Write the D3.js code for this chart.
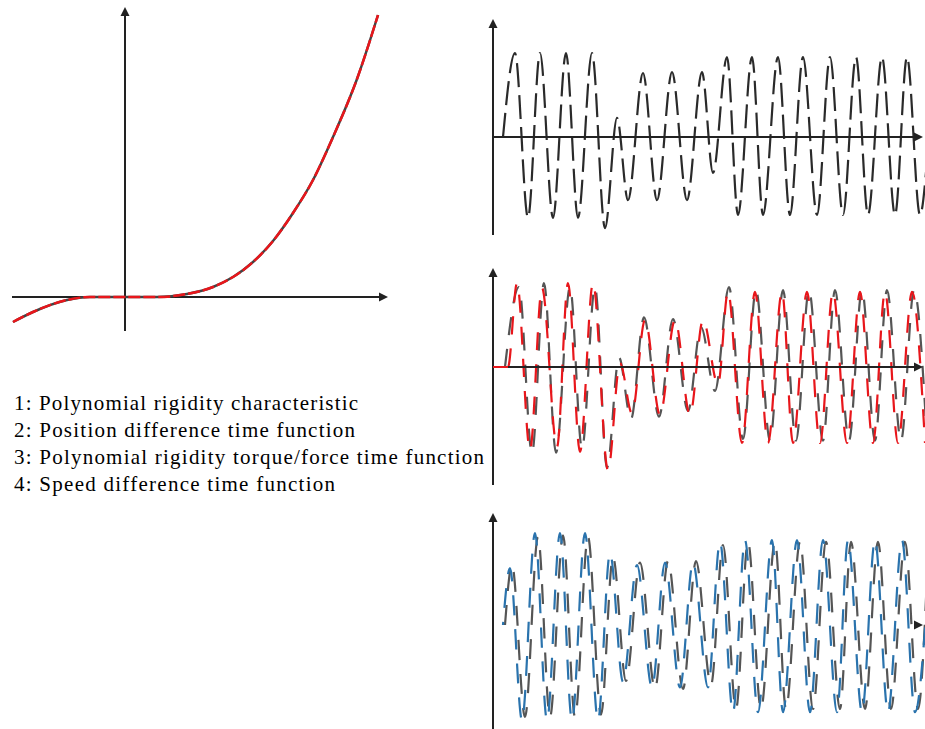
<!DOCTYPE html>
<html><head><meta charset="utf-8">
<script src="https://cdn.jsdelivr.net/npm/d3@7"></script>
<style>body{margin:0;background:#fff}svg{display:block}</style>
</head><body>
<script>
// ---- Data ----
// Panel 1: polynomial rigidity characteristic (displacement -> torque)
const charX = [-2.24,-1.84,-1.16,-0.7,0.64,1.24,1.76,2.16,2.56,2.96,3.36,3.76,4.16,4.64,5.06];
const charY = [-0.5,-0.3,-0.06,0,0,0.06,0.2,0.4,0.7,1.12,1.68,2.34,3.2,4.36,5.64];

// Panel 2: position difference time function
const posT = [0.10,0.22,0.35,0.47,0.60,0.73,0.85,0.99,1.12,1.24,1.35,1.50,1.64,1.79,1.94,2.09,2.20,2.34,2.45,2.59,2.70,2.85,2.97,3.10,3.24,3.37,3.50,3.63,3.75,3.89,4.02,4.14,4.27,4.34];
const posV = [0,1.05,-1.01,1.05,-1.01,1.05,-1.01,1.05,-1.14,0.24,-0.79,0.80,-0.79,0.81,-0.79,0.81,-0.45,1.00,-0.975,1.00,-0.975,1.00,-0.975,1.00,-0.975,1.00,-0.975,1.00,-0.975,1.00,-0.975,1.00,-0.975,-0.3];

// Panel 3: torque (red) and position overlay (gray)
const torqT = [0,0.15,0.24,0.37,0.49,0.64,0.75,0.87,1.00,1.15,1.27,1.39,1.52,1.67,1.82,1.97,2.10,2.25,2.35,2.49,2.62,2.75,2.89,3.00,3.14,3.27,3.40,3.54,3.67,3.80,3.92,4.05,4.19,4.32];
const torqV = [0,0,1.05,-1.04,0.99,-1.0,1.05,-1.06,1.05,-1.29,0.05,-0.58,0.59,-0.6,0.59,-0.6,0.59,-0.22,0.94,-0.95,0.94,-0.95,0.94,-0.95,0.94,-0.95,0.94,-0.95,0.94,-0.95,0.94,-0.95,0.94,-0.95];
const gposT = [0.12,0.26,0.39,0.51,0.63,0.77,0.89,1.02,1.14,1.26,1.38,1.51,1.66,1.80,1.95,2.08,2.22,2.36,2.50,2.63,2.77,2.90,3.03,3.16,3.30,3.42,3.56,3.69,3.82,3.94,4.08,4.21,4.34];
const gposV = [0,1.0,-1.08,1.05,-1.07,1.0,-1.02,1.0,-1.26,0.12,-0.65,0.62,-0.62,0.6,-0.55,0.5,-0.3,1.0,-0.9,0.96,-0.92,0.96,-0.92,0.96,-0.92,0.96,-0.92,0.96,-0.92,0.96,-0.92,0.96,-0.92];

// Panel 4: speed difference (blue) and gray overlay
const spdT = [0.10,0.17,0.29,0.42,0.54,0.67,0.79,0.92,1.05,1.17,1.30,1.44,1.59,1.72,1.87,2.00,2.15,2.27,2.40,2.52,2.65,2.79,2.90,3.04,3.17,3.30,3.44,3.55,3.69,3.82,3.95,4.09,4.22,4.34];
const spdV = [0,0.71,-1.19,1.15,-1.19,1.15,-1.19,1.15,-1.19,0.9,-0.71,0.75,-0.78,0.78,-0.78,0.78,-0.78,1.04,-1.09,1.06,-1.09,1.06,-1.09,1.06,-1.09,1.06,-1.09,1.06,-1.09,1.06,-1.09,1.06,-1.09,0.3];
const gspT = [0.12,0.19,0.32,0.45,0.57,0.70,0.82,0.95,1.08,1.20,1.33,1.47,1.62,1.75,1.90,2.03,2.18,2.30,2.43,2.55,2.68,2.82,2.93,3.07,3.20,3.33,3.47,3.58,3.72,3.85,3.98,4.12,4.25,4.34];
const gspV = [0,0.75,-1.15,1.1,-1.15,1.12,-1.15,1.1,-1.12,0.85,-0.7,0.78,-0.8,0.8,-0.8,0.8,-0.75,1.0,-1.05,1.04,-1.05,1.04,-1.05,1.04,-1.05,1.04,-1.05,1.04,-1.05,1.04,-1.05,1.04,-1.05,0.6];

const legendLines = [
  "1: Polynomial rigidity characteristic",
  "2: Position difference time function",
  "3: Polynomial rigidity torque/force time function",
  "4: Speed difference time function"
];
const legendWidths = [344, 341, 470, 321];

// ---- Drawing ----
const W = 925, H = 729;
const svg = d3.select("body").append("svg").attr("width", W).attr("height", H);
const AX = "#222";

function arrowRight(g, x, y) {
  g.append("path").attr("d", `M${x},${y}L${x-9},${y-4.5}L${x-9},${y+4.5}Z`).attr("fill", AX);
}
function arrowUp(g, x, y) {
  g.append("path").attr("d", `M${x},${y}L${x-4.5},${y+9}L${x+4.5},${y+9}Z`).attr("fill", AX);
}

// Panel 1
const xL = d3.scaleLinear().domain([-2.26, 5.26]).range([12, 388]);
const yL = d3.scaleLinear().domain([-0.68, 5.8]).range([331, 7]);
const g1 = svg.append("g");
g1.append("line").attr("x1", xL(-2.26)).attr("x2", xL(5.26) - 4).attr("y1", yL(0)).attr("y2", yL(0)).attr("stroke", AX).attr("stroke-width", 2);
g1.append("line").attr("x1", xL(0)).attr("x2", xL(0)).attr("y1", yL(-0.68)).attr("y2", yL(5.8) + 4).attr("stroke", AX).attr("stroke-width", 2);
arrowRight(g1, xL(5.26), yL(0));
arrowUp(g1, xL(0), yL(5.8));
const charData = charX.map((x, i) => [x, charY[i]]);
const lineL = d3.line().x(d => xL(d[0])).y(d => yL(d[1])).curve(d3.curveMonotoneX);
g1.append("path").attr("d", lineL(charData)).attr("fill", "none").attr("stroke", "#444").attr("stroke-width", 2.5);
g1.append("path").attr("d", lineL(charData)).attr("fill", "none").attr("stroke", "#e8161b").attr("stroke-width", 2.5).attr("stroke-dasharray", "12,3");

// Right panels
const xR = d3.scaleLinear().domain([0, 4.3]).range([493, 923]);

function panel(yDomain, yRange, showXAxis, series) {
  const y = d3.scaleLinear().domain(yDomain).range(yRange);
  const g = svg.append("g");
  const ln = d3.line().x(d => xR(d[0])).y(d => y(d[1])).curve(d3.curveMonotoneX);
  series.forEach(s => {
    const data = s.t.map((t, i) => [t, s.v[i]]);
    g.append("path").attr("d", ln(data)).attr("fill", "none")
      .attr("stroke", s.color).attr("stroke-width", 2.2)
      .attr("stroke-dasharray", s.dash).attr("stroke-dashoffset", s.offset || 0);
  });
  if (showXAxis) {
    g.append("line").attr("x1", xR(0)).attr("x2", xR(4.3) - 4).attr("y1", y(0)).attr("y2", y(0)).attr("stroke", AX).attr("stroke-width", 2);
  }
  arrowRight(g, xR(4.3), y(0));
  g.append("line").attr("x1", xR(0)).attr("x2", xR(0)).attr("y1", y(yDomain[0])).attr("y2", y(yDomain[1]) + 4).attr("stroke", AX).attr("stroke-width", 2);
  arrowUp(g, xR(0), y(yDomain[1]));
  return {g, y};
}

panel([-1.225, 1.475], [235, 19], true, [
  {t: posT, v: posV, color: "#2a2a2a", dash: "24,8"}
]);
const p3 = panel([-1.475, 1.2375], [485, 268], true, [
  {t: gposT, v: gposV, color: "#555", dash: "18,14", offset: 0},
  {t: torqT, v: torqV, color: "#e8161b", dash: "18,14", offset: 16}
]);
// red initial segment on axis
p3.g.append("line").attr("x1", xR(0)).attr("x2", xR(0.15)).attr("y1", p3.y(0)).attr("y2", p3.y(0)).attr("stroke", "#e8161b").attr("stroke-width", 2);

panel([-1.3, 1.4], [729, 513], false, [
  {t: gspT, v: gspV, color: "#555", dash: "20,14", offset: 0},
  {t: spdT, v: spdV, color: "#2a73ad", dash: "20,14", offset: 17}
]);

// Legend text
const gt = svg.append("g").attr("font-family", "'Liberation Serif','Times New Roman',serif").attr("font-size", 21).attr("fill", "#000");
legendLines.forEach((s, i) => {
  gt.append("text").attr("x", 14).attr("y", 410 + i * 27).attr("textLength", legendWidths[i]).attr("lengthAdjust", "spacing").text(s);
});
</script>
</body></html>
